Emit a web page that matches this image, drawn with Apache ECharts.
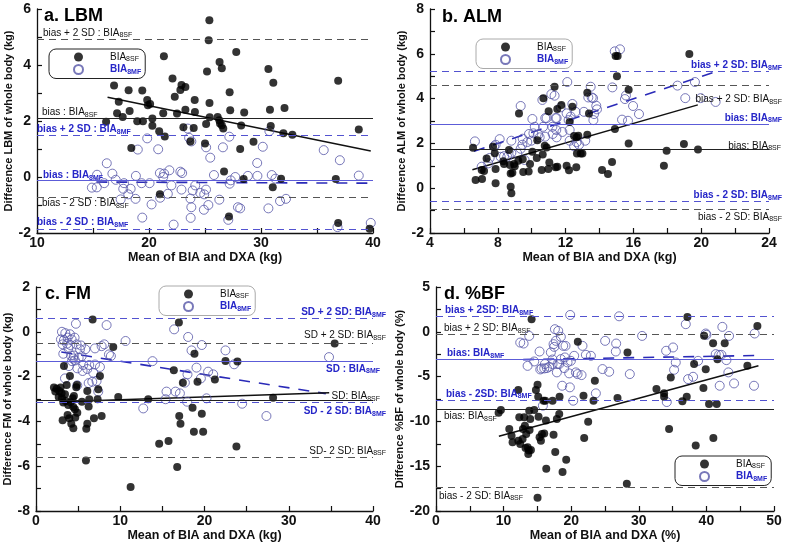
<!DOCTYPE html>
<html>
<head>
<meta charset="utf-8">
<script src="https://cdn.jsdelivr.net/npm/echarts@6/dist/echarts.min.js"></script>
<style>
  html, body { margin: 0; padding: 0; background: #fff; }
  #chart { width: 788px; height: 548px; }
</style>
</head>
<body>
<div id="chart"></div>
<script>
// ---- data: [mean, difference] ----
const lbmSsf = [[25.39,5.6],[25.33,4.88],[27.79,4.46],[21.33,4.31],[26.3,4.11],[26.5,3.88],[30.66,3.86],[25.18,3.77],[36.89,3.44],[16.88,3.27],[22.1,3.52],[22.9,3.29],[23.25,3.21],[22.8,3.11],[31.1,3.37],[18.18,3.1],[19.4,3.09],[27.2,3.03],[22.3,2.87],[17.3,2.69],[19.84,2.75],[24.08,2.75],[25.4,2.64],[19.9,2.56],[20.1,2.61],[17.15,2.28],[17.65,2.14],[18.27,2.36],[21.27,2.28],[22.5,2.27],[23.25,2.4],[24.1,2.32],[27.25,2.38],[16.17,1.97],[18.95,1.99],[19.46,1.99],[20.3,1.83],[20.3,2.09],[25.42,2.13],[26.13,2.14],[26.28,2.03],[26.34,1.91],[26.5,1.85],[26.63,1.73],[25.1,1.89],[23.07,1.78],[23.99,1.75],[20.91,1.63],[21.41,1.45],[28.23,1.84],[28.5,2.3],[30.8,2.4],[30.87,1.82],[32.1,2.46],[32.0,1.56],[32.8,1.51],[38.73,1.7],[18.42,1.04],[23.7,1.27],[25.0,1.2],[28.14,1.0],[29.33,1.26],[26.7,0.2],[28.45,-0.07],[31.79,-0.06],[31.05,-0.37],[20.97,-0.62],[27.14,-1.41],[36.68,-0.07],[36.89,-1.64],[39.7,-1.85]];
const lbmSmf = [[16.23,0.49],[15.34,-0.37],[14.9,-0.38],[15.36,0.08],[16.0,-0.22],[16.73,0.12],[17.03,-0.1],[17.47,-0.8],[17.77,-0.22],[17.7,-0.42],[18.15,-0.62],[18.36,-0.42],[18.8,-0.78],[18.83,0.04],[19.0,0.98],[19.34,-0.22],[19.4,-1.45],[19.84,1.38],[20.05,-0.22],[20.23,-0.98],[20.82,0.99],[20.97,0.14],[21.0,-0.74],[21.27,0.0],[21.35,0.12],[21.68,-0.6],[21.82,0.24],[22.0,-0.3],[22.2,-1.7],[22.8,0.19],[22.96,0.14],[22.9,-0.45],[23.46,1.73],[23.58,1.4],[23.78,1.27],[23.7,-0.77],[23.78,-1.08],[23.72,-1.46],[23.9,-0.48],[24.13,-0.3],[24.58,-0.57],[24.9,-1.17],[24.93,-0.62],[25.09,-0.45],[25.1,1.06],[25.3,-1.0],[25.47,0.69],[25.8,0.07],[26.28,-0.81],[26.6,1.06],[27.17,1.44],[27.2,-0.24],[27.3,-0.12],[27.08,-1.53],[27.7,0.0],[27.94,-1.08],[28.14,-1.12],[28.83,0.04],[29.66,0.5],[29.68,0.04],[30.16,1.08],[30.75,1.64],[30.66,-1.12],[30.96,0.07],[31.29,-0.06],[31.7,-0.86],[32.23,-0.78],[35.6,0.96],[37.04,0.6],[36.83,-1.79],[38.73,0.05],[39.8,-1.64]];

const almSsf = [[6.54,1.81],[6.69,0.37],[7.07,0.41],[7.34,1.33],[7.05,0.81],[7.19,0.77],[7.72,1.85],[7.82,1.56],[7.87,0.86],[7.87,0.22],[8.33,1.2],[8.37,1.08],[8.66,1.71],[8.72,1.04],[8.76,0.66],[8.76,0.07],[8.8,-0.23],[8.86,0.69],[8.96,1.08],[9.0,0.98],[9.21,1.23],[9.25,3.34],[9.47,1.29],[9.5,0.72],[9.82,0.74],[9.9,1.08],[10.04,1.63],[10.3,1.35],[10.33,2.14],[10.59,0.81],[10.65,1.5],[10.69,4.02],[10.77,1.9],[10.88,1.82],[11.0,3.43],[11.04,1.15],[10.98,0.86],[11.35,4.53],[11.41,0.93],[11.51,0.96],[11.51,3.54],[11.75,3.71],[12.06,1.0],[12.2,0.8],[12.24,2.95],[12.4,3.64],[12.5,2.33],[12.65,2.27],[12.63,0.93],[12.75,2.34],[12.67,1.55],[12.89,1.55],[12.99,1.55],[13.28,4.26],[13.28,2.39],[13.38,3.34],[14.15,0.81],[14.5,0.63],[14.74,1.17],[14.91,2.64],[14.95,5.9],[15.07,5.9],[15.03,5.0],[15.72,4.4],[15.72,2.0],[17.8,1.0],[17.96,1.67],[18.98,1.97],[19.3,5.99],[19.81,1.73]];
const almSmf = [[6.65,2.09],[7.05,0.96],[7.44,1.11],[7.52,1.35],[7.78,1.87],[7.87,1.94],[8.11,2.19],[8.17,1.4],[8.37,1.43],[8.56,1.4],[8.8,2.12],[8.8,1.58],[9.15,1.55],[9.35,3.67],[9.35,1.76],[9.45,1.94],[9.47,2.21],[9.58,1.26],[9.74,2.06],[9.84,2.42],[9.98,2.12],[10.04,3.09],[10.1,2.45],[10.18,2.74],[10.39,2.39],[10.47,2.27],[10.63,3.94],[10.67,2.74],[10.8,3.13],[10.79,2.3],[10.88,3.13],[11.16,4.2],[11.22,2.74],[11.24,2.42],[11.35,4.13],[11.41,3.13],[11.47,3.13],[11.45,2.6],[11.47,2.27],[11.71,3.61],[11.81,2.51],[12.06,3.34],[12.1,4.74],[12.18,3.04],[12.24,2.6],[12.24,2.12],[12.3,3.2],[12.4,3.76],[12.5,1.87],[12.59,3.41],[12.65,2.05],[12.79,1.94],[13.08,3.41],[13.16,2.12],[13.34,4.05],[13.48,4.53],[13.54,4.05],[13.62,4.02],[13.64,3.04],[13.68,3.31],[13.81,3.68],[13.85,3.52],[14.76,4.5],[14.9,6.11],[15.21,6.2],[15.33,3.06],[15.5,3.98],[15.56,4.14],[15.68,3.01],[15.98,3.67],[16.33,3.31],[18.6,4.58],[19.06,4.02],[19.63,4.74],[19.97,4.02],[20.85,3.85]];

const fmSsf = [[2.13,-2.49],[2.29,-2.67],[2.45,-2.54],[2.77,-2.64],[2.69,-2.91],[2.92,-2.49],[3.04,-2.74],[3.08,-2.97],[3.24,-3.16],[3.16,-3.95],[3.32,-1.53],[3.44,-2.79],[3.52,-3.09],[3.64,-2.37],[3.75,-3.71],[3.83,-3.27],[3.95,-3.86],[4.03,-1.97],[4.11,-3.14],[4.19,-4.1],[4.35,-2.97],[4.43,-3.36],[4.5,-2.87],[4.43,-4.31],[4.62,-3.46],[4.66,-3.83],[4.78,-2.47],[4.86,-2.38],[4.9,-3.61],[5.45,-3.12],[6.09,-2.64],[5.93,-5.74],[5.97,-4.33],[6.09,-4.1],[6.32,-3.01],[6.25,-3.33],[6.72,0.55],[6.88,-3.86],[7.31,-3.01],[7.39,-2.57],[7.59,-1.97],[7.79,-3.76],[9.17,-0.68],[9.76,-2.91],[13.32,-3.01],[11.23,-6.93],[14.62,-5.0],[15.73,-4.88],[16.36,-1.72],[16.76,-6.04],[16.96,0.41],[17.0,-3.76],[17.15,-4.1],[17.43,-2.27],[18.58,-3.39],[18.81,-0.98],[18.74,-4.46],[19.17,-2.23],[19.68,-3.66],[19.84,-4.46],[21.23,-2.13],[22.49,-1.3],[23.91,-1.33],[23.79,-5.12],[28.14,-2.94],[35.45,-0.52]];
const fmSmf = [[3.08,0.0],[2.96,-0.34],[3.16,-0.56],[3.24,-0.98],[3.32,-0.37],[3.44,-2.08],[3.48,-0.06],[3.68,-0.53],[3.75,-0.26],[3.83,-0.74],[3.91,-1.53],[4.03,-0.11],[4.07,-0.59],[4.15,-1.06],[4.23,-0.34],[4.27,-1.31],[4.43,-1.19],[4.5,-1.06],[4.58,-0.26],[4.62,-1.28],[4.74,0.36],[4.82,-0.56],[4.9,-1.63],[4.9,-2.39],[5.06,-1.16],[5.22,-0.78],[5.34,-0.61],[5.42,-1.09],[5.53,-1.75],[5.61,-1.48],[5.85,-0.78],[6.09,-1.66],[6.25,-2.29],[6.32,-1.48],[6.68,-2.23],[6.8,-1.83],[7.0,-0.74],[7.0,-1.46],[7.19,-2.2],[7.39,-2.67],[7.59,-1.57],[7.79,-0.64],[8.1,-0.56],[8.38,0.3],[8.66,-1.01],[8.89,-1.08],[10.63,-0.41],[13.83,-1.31],[12.73,-3.42],[15.38,-3.01],[15.49,-2.67],[16.4,0.11],[16.56,-2.67],[17.08,-2.75],[17.67,-2.27],[17.94,-3.12],[17.98,-1.9],[18.06,-0.23],[18.46,-0.83],[19.05,-1.6],[19.57,-2.08],[19.68,-0.59],[20.24,-2.97],[20.43,-1.78],[21.03,-1.9],[22.49,-0.83],[23.52,-1.45],[24.47,-3.21],[27.35,-3.76],[34.78,-1.13]];

const bfSsf = [[9.26,-9.03],[9.6,-8.73],[10.84,-10.85],[11.18,-11.59],[11.33,-12.33],[12.17,-6.5],[12.32,-9.55],[12.17,-12.15],[12.46,-12.52],[12.81,-11.96],[12.86,-10.85],[13.05,-9.55],[13.15,-10.48],[13.25,-12.96],[13.35,-11.41],[13.55,-12.89],[13.65,-13.63],[13.74,-13.26],[13.79,-8.8],[13.94,-9.73],[13.84,-10.96],[14.04,-13.18],[14.14,1.4],[14.53,-8.73],[14.78,-6.5],[15.02,-5.91],[15.12,-7.25],[15.17,-9.48],[15.32,-11.78],[15.52,-12.15],[15.67,-11.41],[15.91,-7.69],[16.01,-11.34],[16.16,-7.69],[16.26,-9.91],[16.31,-15.29],[17.24,-7.69],[17.39,-11.48],[17.64,-13.41],[17.88,-9.73],[18.23,-9.18],[18.28,-7.25],[18.72,-15.66],[19.26,-14.29],[20.98,-1.12],[21.82,-7.14],[21.92,-11.85],[22.51,-10.03],[23.3,-7.69],[23.5,-5.46],[26.85,-7.4],[28.33,-2.3],[28.23,-16.97],[32.61,-6.39],[33.74,-6.87],[33.74,-7.24],[34.73,-5.09],[34.48,-10.85],[36.45,-7.76],[37.09,-7.24],[37.19,1.66],[38.18,-3.6],[38.42,-12.7],[39.56,-6.28],[39.66,-0.45],[39.9,-4.17],[40.39,-8.06],[40.99,-1.27],[41.03,-11.85],[41.53,-8.06],[41.63,-3.05],[42.71,-1.27],[46.06,-3.78],[47.54,0.66],[15.02,-18.53]];
const bfSmf = [[12.46,-1.2],[12.96,-1.31],[13.55,-3.8],[13.79,-0.46],[14.53,-3.31],[15.32,-2.2],[15.42,-4.2],[15.62,-4.09],[15.81,-8.25],[16.01,-4.09],[16.11,-3.6],[16.4,-4.05],[16.75,-3.9],[16.99,-2.3],[17.24,-3.09],[17.24,-3.6],[17.39,-1.38],[17.49,-1.68],[17.59,0.29],[17.73,-1.01],[17.88,-4.53],[17.98,-3.6],[18.08,0.1],[18.23,-3.6],[18.47,-3.05],[18.47,-0.56],[18.67,-6.02],[18.82,-1.57],[18.97,-4.05],[19.06,-2.86],[19.16,-1.57],[19.46,-3.42],[19.7,-4.64],[19.8,-6.2],[19.85,1.88],[19.95,-3.24],[20.3,-7.69],[20.44,-2.68],[20.69,-4.53],[20.94,-4.72],[21.53,-4.83],[21.67,-1.57],[22.17,-2.57],[22.91,-2.68],[23.65,-6.87],[24.63,-4.16],[25.02,-1.01],[25.62,-4.46],[26.6,-2.2],[26.65,-1.31],[27.09,1.73],[28.67,-4.72],[30.49,-0.46],[34.04,-2.12],[34.14,-7.84],[35.07,-1.75],[35.22,-4.24],[35.47,-3.42],[36.95,0.85],[37.29,-5.28],[38.03,-5.02],[38.77,-3.24],[39.9,-0.19],[40.0,-0.34],[41.38,-2.49],[41.87,-2.57],[41.97,-6.02],[42.22,-2.57],[42.36,0.55],[42.96,-3.16],[43.25,-4.53],[43.35,-0.46],[44.09,-5.76],[47.04,-6.02],[47.14,-0.19]];

// bias and limits of agreement (label text: "main|subscript")
const lbmRefValues = [4.93, 2.09, 1.48, -0.12, -0.72, -1.87];
const lbmRefLabels = ['bias + 2 SD : BIA|8SF', 'bias : BIA|8SF', 'bias + 2 SD : BIA|8MF', 'bias : BIA|8MF', 'bias - 2 SD : BIA|8SF', 'bias - 2 SD : BIA|8MF'];
const almRefValues = [5.22, 4.59, 2.87, 1.75, -0.6, -0.93];
const almRefLabels = ['bias + 2 SD: BIA|8MF', 'bias + 2 SD: BIA|8SF', 'bias: BIA|8MF', 'bias: BIA|8SF', 'bias - 2 SD: BIA|8MF', 'bias - 2 SD: BIA|8SF'];
const fmRefValues = [0.6, -0.53, -1.3, -3.06, -3.16, -5.59];
const fmRefLabels = ['SD + 2 SD: BIA|8MF', 'SD + 2 SD: BIA|8SF', 'SD : BIA|8MF', 'SD: BIA|8SF', 'SD - 2 SD: BIA|8MF', 'SD- 2 SD: BIA|8SF'];
const bfRefValues = [1.7, -0.31, -3.05, -7.6, -8.65, -17.3];
const bfRefLabels = ['bias + 2SD: BIA|8MF', 'bias + 2 SD: BIA|8SF', 'bias: BIA|8MF', 'bias - 2SD: BIA|8MF', 'bias: BIA|8SF', 'bias - 2 SD: BIA|8SF'];

// regression line end points
const lbmRegSsf = [[16.3, 2.85], [39.8, 0.93]];
const lbmRegSmf = [[15.3, -0.18], [39.6, -0.22]];
const almRegSsf = [[6.5, 0.82], [19.8, 3.72]];
const almRegSmf = [[6.6, 1.65], [20.9, 5.21]];
const fmRegSsf = [[2.9, -3.12], [34.8, -2.72]];
const fmRegSmf = [[3.0, -0.9], [34.4, -2.76]];
const bfRegSsf = [[9.3, -11.65], [47.7, -3.78]];
const bfRegSmf = [[12.9, -3.1], [47.3, -2.65]];

const BLUE_TXT = '#2626c8';
const BLUE_PT = '#5656a8';
const BLUE_LINE = '#5c5cd8';
const FONT = '"Liberation Sans", Arial, sans-serif';

const labelRich = {
  k: { fontSize: 10, color: '#111', fontFamily: FONT },
  ks: { fontSize: 7, color: '#111', fontFamily: FONT, padding: [5, 0, 0, 0] },
  u: { fontSize: 10, fontWeight: 'bold', color: BLUE_TXT, fontFamily: FONT },
  us: { fontSize: 7, fontWeight: 'bold', color: BLUE_TXT, fontFamily: FONT, padding: [5, 0, 0, 0] }
};

// per-panel layout: style of each reference line = [color kind, dashed, label position, distance]
const panels = [
  {
    title: 'a. LBM', titlePos: [44, 7],
    grid: [37, 9, 336, 224], x: [10, 40, 10], y: [-2, 6, 2],
    xName: 'Mean of BIA and DXA (kg)', yName: 'Difference LBM of whole body (kg)', yNameGap: 23,
    ssf: lbmSsf, smf: lbmSmf, regSsf: lbmRegSsf, regSmf: lbmRegSmf,
    refValues: lbmRefValues, refLabels: lbmRefLabels,
    refStyle: [['k', true, 'insideStartTop', [6, 0]], ['k', false, 'insideStartTop', [5, 0]], ['u', true, 'insideStartTop', [0, 0]],
               ['u', false, 'insideStartTop', [6, -1]], ['k', true, 'insideStartBottom', [5, 0]], ['u', true, 'insideStartTop', [0, 1]]],
    legend: [49, 49], legendBorder: '#222'
  },
  {
    title: 'b. ALM', titlePos: [442, 8],
    grid: [430, 9, 339, 224], x: [4, 24, 4], y: [-2, 8, 2],
    xName: 'Mean of BIA and DXA (kg)', yName: 'Difference ALM of whole body (kg)', yNameGap: 22,
    ssf: almSsf, smf: almSmf, regSsf: almRegSsf, regSmf: almRegSmf,
    refValues: almRefValues, refLabels: almRefLabels,
    refStyle: [['u', true, 'insideEndTop', [-13, 0]], ['k', true, 'insideEndBottom', [-13, 8]], ['u', false, 'insideEndTop', [-13, 0]],
               ['k', false, 'insideEndTop', [-12, -3]], ['u', true, 'insideEndTop', [-13, 0]], ['k', true, 'insideEndBottom', [-13, 2]]],
    legend: [476, 39], legendBorder: '#aaa'
  },
  {
    title: 'c. FM', titlePos: [45, 285],
    grid: [36, 287, 337, 224], x: [0, 40, 10], y: [-8, 2, 2],
    xName: 'Mean of BIA and DXA (kg)', yName: 'Difference FM of whole body (kg)', yNameGap: 22,
    ssf: fmSsf, smf: fmSmf, regSsf: fmRegSsf, regSmf: fmRegSmf,
    refValues: fmRefValues, refLabels: fmRefLabels,
    refStyle: [['u', true, 'insideEndTop', [-13, 0]], ['k', true, 'insideEndTop', [-13, 2]], ['u', false, 'insideEndBottom', [-7, 2]],
               ['k', false, 'insideEndTop', [-7, -2]], ['u', true, 'insideEndBottom', [-13, 3]], ['k', true, 'insideEndTop', [-13, 0]]],
    legend: [159, 286], legendBorder: '#aaa'
  },
  {
    title: 'd. %BF', titlePos: [444, 285],
    grid: [436, 287, 338, 224], x: [0, 50, 10], y: [-20, 5, 5],
    xName: 'Mean of BIA and DXA (%)', yName: 'Difference %BF of whole body (%)', yNameGap: 27,
    ssf: bfSsf, smf: bfSmf, regSsf: bfRegSsf, regSmf: bfRegSmf,
    refValues: bfRefValues, refLabels: bfRefLabels,
    refStyle: [['u', true, 'insideStartTop', [9, 0]], ['k', true, 'insideStartTop', [8, 0]], ['u', false, 'insideStartTop', [11, 0]],
               ['u', true, 'insideStartTop', [10, 0]], ['k', false, 'insideStartBottom', [8, 1]], ['k', true, 'insideStartBottom', [3, 3]]],
    legend: [675, 456], legendBorder: '#222'
  }
];

const refLine = (value, text, style) => {
  const [kind, dashed, position, distance] = style;
  const parts = text.split('|');
  const blue = kind === 'u';
  let color = blue ? BLUE_LINE : '#222';
  if (dashed) color = blue ? '#5252d0' : '#555';
  return {
    yAxis: value,
    lineStyle: { color: color, width: 1, type: dashed ? [7, 5] : 'solid' },
    label: {
      show: true,
      position: position,
      distance: distance,
      formatter: `{${kind}|${parts[0]}}{${kind}s|${parts[1]}}`,
      rich: labelRich
    }
  };
};

const buildSeries = (p, i) => {
  return [
    {
      type: 'line', name: 'refs', xAxisIndex: i, yAxisIndex: i, data: [], z: 1,
      markLine: {
        silent: true, symbol: ['none', 'none'], animation: false,
        data: p.refValues.map((v, k) => refLine(v, p.refLabels[k], p.refStyle[k]))
      }
    },
    {
      type: 'line', name: 'regSmf', xAxisIndex: i, yAxisIndex: i, data: p.regSmf, symbol: 'none', z: 2,
      lineStyle: { color: '#2a2ab8', width: 1.6, type: [11, 9] }
    },
    {
      type: 'line', name: 'regSsf', xAxisIndex: i, yAxisIndex: i, data: p.regSsf, symbol: 'none', z: 2,
      lineStyle: { color: '#111', width: 1.5 }
    },
    {
      type: 'scatter', name: 'BIA8MF', xAxisIndex: i, yAxisIndex: i, data: p.smf, symbol: 'circle', symbolSize: 9, z: 3,
      itemStyle: { color: 'rgba(255,255,255,0)', borderColor: BLUE_PT, borderWidth: 1 }
    },
    {
      type: 'scatter', name: 'BIA8SF', xAxisIndex: i, yAxisIndex: i, data: p.ssf, symbolSize: 8, z: 4,
      itemStyle: { color: '#000' }
    }
  ];
};

const axisCommon = {
  axisLine: { onZero: false, lineStyle: { color: '#111', width: 1.3 } },
  axisTick: { inside: true, length: 5, lineStyle: { color: '#111', width: 1.2 } },
  minorTick: { show: true, splitNumber: 2, length: 5, lineStyle: { color: '#111', width: 1.2 } },
  splitLine: { show: false },
  nameLocation: 'middle',
  nameTextStyle: { fontWeight: 'bold', color: '#111', fontFamily: FONT }
};

const chart = echarts.init(document.getElementById('chart'));

const option = {
  animation: false,
  backgroundColor: '#fff',
  textStyle: { fontFamily: FONT },
  title: panels.map(p => ({
    text: p.title, left: p.titlePos[0], top: p.titlePos[1], padding: 0,
    textStyle: { fontSize: 18, fontWeight: 'bold', color: '#000', fontFamily: FONT }
  })),
  legend: panels.map(p => ({
    left: p.legend[0], top: p.legend[1], orient: 'vertical',
    itemWidth: 9, itemHeight: 9, itemGap: 1,
    padding: [3, 4, 3, 24],
    borderColor: p.legendBorder, borderWidth: 1, borderRadius: 7,
    selectedMode: false,
    data: ['BIA8SF', 'BIA8MF'],
    formatter: name => name === 'BIA8SF' ? '{a|BIA}{as|8SF}' : '{b|BIA}{bs|8MF}',
    textStyle: {
      rich: {
        a: { fontSize: 10, color: '#111', fontFamily: FONT, padding: [0, 0, 0, 22] },
        as: { fontSize: 7, color: '#111', fontFamily: FONT, padding: [5, 0, 0, 0] },
        b: { fontSize: 10, fontWeight: 'bold', color: BLUE_TXT, fontFamily: FONT, padding: [0, 0, 0, 22] },
        bs: { fontSize: 7, fontWeight: 'bold', color: BLUE_TXT, fontFamily: FONT, padding: [5, 0, 0, 0] }
      }
    }
  })),
  grid: panels.map(p => ({ left: p.grid[0], top: p.grid[1], width: p.grid[2], height: p.grid[3] })),
  xAxis: panels.map((p, i) => ({
    ...axisCommon,
    type: 'value', gridIndex: i, min: p.x[0], max: p.x[1], interval: p.x[2],
    name: p.xName, nameGap: 17,
    nameTextStyle: { ...axisCommon.nameTextStyle, fontSize: 12.5 },
    axisLabel: { margin: 3, fontSize: 14, fontWeight: 'bold', color: '#111', fontFamily: FONT }
  })),
  yAxis: panels.map((p, i) => ({
    ...axisCommon,
    type: 'value', gridIndex: i, min: p.y[0], max: p.y[1], interval: p.y[2],
    name: p.yName, nameGap: p.yNameGap,
    nameTextStyle: { ...axisCommon.nameTextStyle, fontSize: 11 },
    axisLabel: { margin: 6, fontSize: 14, fontWeight: 'bold', color: '#111', fontFamily: FONT }
  })),
  series: panels.flatMap((p, i) => buildSeries(p, i))
};

chart.setOption(option);

window.addEventListener('resize', () => chart.resize());
</script>
</body>
</html>
